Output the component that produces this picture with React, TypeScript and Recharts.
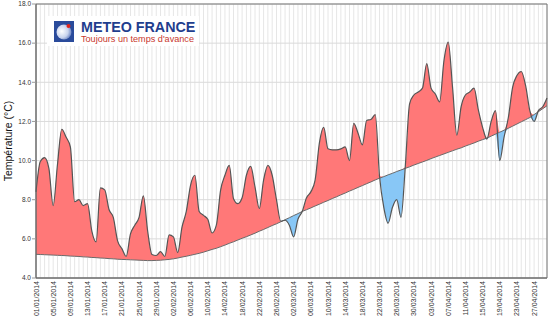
import React from 'react';
import { ComposedChart, Area, Line, XAxis, YAxis, CartesianGrid, ReferenceArea } from 'recharts';

// mean daily temperature, 01/01/2014 -> 30/04/2014
const actual = [
  8.4, 9.95, 10.15, 9.6, 7.7, 9.8, 11.6, 11.2, 10.7, 7.9,
  8.0, 7.7, 7.8, 6.4, 5.85, 8.6, 8.5, 7.5, 7.1, 5.9,
  5.5, 5.1, 6.25, 6.7, 7.1, 8.2, 6.4, 5.2, 5.15, 5.35,
  5.1, 6.2, 6.1, 5.3, 6.6, 7.4, 8.75, 9.25, 7.4, 7.2,
  7.0, 6.3, 6.7, 8.5, 9.25, 9.75, 8.05, 7.8, 8.1, 9.25,
  9.7, 8.65, 7.55, 9.0, 9.75, 9.25, 8.0, 6.9, 6.95, 6.7,
  6.1, 7.0, 7.4, 8.1, 8.4, 9.0, 10.9, 11.7, 10.6, 10.55,
  10.55, 10.6, 10.7, 10.0, 11.9, 11.4, 10.8, 12.05, 12.1, 12.35,
  9.2, 7.6, 6.8, 7.6, 8.0, 7.1, 9.7, 12.9, 13.35, 13.5,
  13.7, 14.95, 13.7, 13.4, 13.0, 15.1, 16.05, 13.75, 11.3, 12.75,
  13.35, 13.5, 13.7, 12.6, 11.7, 11.1, 12.0, 12.55, 10.0, 11.2,
  12.2, 13.75, 14.35, 14.55, 13.85, 12.55, 12.0, 12.55, 12.75, 13.2,
];

// seasonal normal
const normal = [
  5.21, 5.2, 5.19, 5.18, 5.17, 5.16, 5.15, 5.14, 5.12, 5.11,
  5.1, 5.08, 5.07, 5.05, 5.04, 5.02, 5.01, 4.99, 4.98, 4.96,
  4.95, 4.94, 4.93, 4.92, 4.91, 4.9, 4.89, 4.89, 4.9, 4.91,
  4.93, 4.95, 4.98, 5.02, 5.07, 5.11, 5.16, 5.21, 5.26, 5.32,
  5.39, 5.46, 5.52, 5.6, 5.68, 5.77, 5.85, 5.94, 6.03, 6.11,
  6.2, 6.29, 6.39, 6.48, 6.58, 6.68, 6.77, 6.87, 6.98, 7.08,
  7.19, 7.29, 7.4, 7.49, 7.58, 7.68, 7.77, 7.87, 7.96, 8.06,
  8.15, 8.25, 8.34, 8.44, 8.53, 8.63, 8.72, 8.82, 8.91, 9.01,
  9.1, 9.18, 9.27, 9.35, 9.44, 9.52, 9.6, 9.68, 9.77, 9.85,
  9.93, 10.01, 10.1, 10.18, 10.26, 10.34, 10.42, 10.5, 10.58, 10.65,
  10.74, 10.82, 10.9, 10.99, 11.07, 11.15, 11.25, 11.35, 11.45, 11.55,
  11.65, 11.76, 11.87, 11.98, 12.09, 12.2, 12.35, 12.5, 12.65, 12.8,
];

const yTicks = [4, 6, 8, 10, 12, 14, 16, 18];

const pad = (n: number) => (n < 10 ? '0' + n : '' + n);
const dates = actual.map((_, i) => {
  const d = new Date(Date.UTC(2014, 0, 1 + i));
  return `${pad(d.getUTCDate())}/${pad(d.getUTCMonth() + 1)}/${d.getUTCFullYear()}`;
});
const dayIdx = dates.map((_, i) => i);

const data = actual.map((t, i) => ({
  idx: i,
  actual: t,
  normal: normal[i],
  above: [normal[i], Math.max(t, normal[i])],
  below: [Math.min(t, normal[i]), normal[i]],
}));

const FONT = 'Arial, "Liberation Sans", sans-serif';

const XTick = (props: any) => {
  const { x, y, payload } = props;
  if (payload.value % 4 !== 0) return null;
  return (
    <text x={x} y={y} dy={2.5} transform={`rotate(-90 ${x} ${y})`} textAnchor="end"
      fontSize={7} fill="#333" fontFamily={FONT}>
      {dates[payload.value]}
    </text>
  );
};

const YLabel = (props: any) => {
  const { viewBox } = props;
  const cy = viewBox.y + viewBox.height / 2;
  return (
    <text x={12} y={cy} transform={`rotate(-90 12 ${cy})`} textAnchor="middle"
      fontSize={10.5} fill="#111" fontFamily={FONT}>
      Température (°C)
    </text>
  );
};

const Logo = () => (
  <div style={{ position: 'absolute', left: 47, top: 16, width: 152, height: 30, background: '#fff',
    fontFamily: FONT }}>
    <svg width={20} height={21} style={{ position: 'absolute', left: 7, top: 5 }}>
      <defs>
        <radialGradient id="globe" cx="0.35" cy="0.45" r="0.7">
          <stop offset="0%" stopColor="#ffffff" />
          <stop offset="60%" stopColor="#c9d4ee" />
          <stop offset="100%" stopColor="#5a74b8" />
        </radialGradient>
      </defs>
      <rect x={0} y={0} width={20} height={21} fill="#2a4b9b" />
      <circle cx={10} cy={11} r={7.5} fill="url(#globe)" />
      <circle cx={14.5} cy={5} r={2} fill="#e2231a" />
    </svg>
    <div style={{ position: 'absolute', left: 34, top: 4, fontSize: 14.3, fontWeight: 'bold', color: '#1f3e8e',
      lineHeight: '14px', whiteSpace: 'nowrap' }}>
      METEO FRANCE
    </div>
    <div style={{ position: 'absolute', left: 34, top: 18, fontSize: 9.1, color: '#c8372d',
      lineHeight: '10px', whiteSpace: 'nowrap' }}>
      Toujours un temps d'avance
    </div>
  </div>
);

export default function App() {
  return (
    <div style={{ position: 'absolute', left: 0, top: 0, width: 550, height: 321, background: '#fff' }}>
      <ComposedChart width={550} height={321} data={data} margin={{ top: 4, right: 3, bottom: 0, left: 0 }}>
        <CartesianGrid horizontal={false} stroke="#e6e6e6" />
        <CartesianGrid vertical={false} stroke="#dadada" />
        <XAxis dataKey="idx" type="number" domain={[0, dates.length - 1]} ticks={dayIdx} interval={0}
          height={43} tick={<XTick />} tickLine={false} tickSize={0} tickMargin={3}
          axisLine={{ stroke: '#666' }} />
        <YAxis domain={[4, 18]} ticks={yTicks} width={36} interval={0}
          tickFormatter={(v: number) => v.toFixed(1)}
          tick={{ fontSize: 6.5, fill: '#333', fontFamily: FONT }}
          tickSize={4} tickLine={{ stroke: '#999' }} tickMargin={1}
          axisLine={{ stroke: '#666' }} label={<YLabel />} />
        <Area dataKey="above" type="monotone" fill="#ff7878" fillOpacity={1} stroke="none"
          isAnimationActive={false} activeDot={false} />
        <Area dataKey="below" type="monotone" fill="#88c7f6" fillOpacity={1} stroke="none"
          isAnimationActive={false} activeDot={false} />
        <Line dataKey="normal" type="monotone" stroke="#6a6a6a" strokeWidth={1} dot={false}
          activeDot={false} isAnimationActive={false} />
        <Line dataKey="actual" type="monotone" stroke="#555" strokeWidth={1.2} dot={false}
          activeDot={false} isAnimationActive={false} />
        <ReferenceArea x1={0} x2={dates.length - 1} y1={4} y2={18} fill="none" stroke="#777"
          strokeWidth={1} ifOverflow="visible" />
      </ComposedChart>
      <Logo />
    </div>
  );
}
